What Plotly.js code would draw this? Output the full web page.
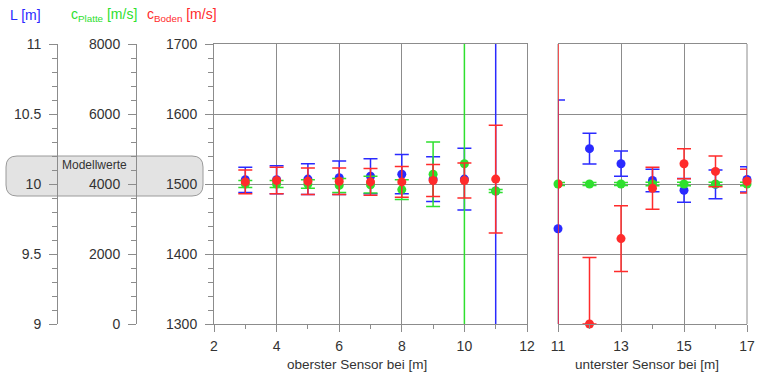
<!DOCTYPE html>
<html>
<head>
<meta charset="utf-8">
<script src="https://cdn.plot.ly/plotly-3.0.1.min.js"></script>
<style>html,body{margin:0;padding:0;background:#fff}#chart{width:759px;height:375px}</style>
</head>
<body>
<div id="chart"></div>
<script>
// ---------- data ----------
// upper panel: oberster Sensor bei [m]
const xTop = [3, 4, 5, 6, 7, 8, 9, 10, 11];
const L_top = [10.03, 10.03, 10.035, 10.045, 10.055, 10.07, 10.035, 10.035, 9.95];
const L_top_err = [0.09, 0.10, 0.11, 0.12, 0.125, 0.14, 0.16, 0.22, 5];
const cPlatte_top = [4000, 4000, 4000, 3960, 3980, 3840, 4280, 4580, 3800];
const cPlatte_top_err = [100, 100, 120, 200, 240, 280, 920, 20000, 40];
const cBoden_top = [1503, 1505, 1504, 1504, 1503, 1503, 1505, 1505, 1507];
const cBoden_top_err = [17, 19, 19, 19, 19, 22, 23, 25, 77];

// lower panel: unterster Sensor bei [m]
const xBot = [11, 12, 13, 14, 15, 16, 17];
const L_bot = [9.68, 10.2525, 10.145, 10.025, 9.955, 9.9975, 10.0325];
const L_bot_err = [0.92, 0.11, 0.09, 0.08, 0.085, 0.1025, 0.09];
const cPlatte_bot = [4000, 4000, 4000, 4000, 4000, 4000, 4000];
const cPlatte_bot_err = [40, 40, 40, 50, 50, 50, 50];
const cBoden_bot = [1500, 1300, 1422, 1494, 1529, 1518, 1504];
const cBoden_bot_errPlus = [500, 95, 47, 30, 21.5, 22, 17];
const cBoden_bot_errMinus = [500, 0, 47, 30, 21.5, 22, 17];

// axis ranges
const xTopRange = [2, 12];
const xBotRange = [11, 17];
const L_range = [9, 11];
const cPlatte_range = [0, 8000];
const cBoden_range = [1300, 1700];

// ---------- styling ----------
const W = 759, H = 375;
const px = v => v / W;
const py = v => 1 - v / H;
const BLUE = '#2a2aff', GREEN = '#2ee02e', RED = '#ff2b2b', GRAY = '#8c8c8c', TXT = '#333333';
const FONT = 'Liberation Sans, Arial, sans-serif';

function errs(color, arr, minus) {
  const e = {type: 'data', array: arr, color: color, thickness: 1.5, width: 7, visible: true};
  if (minus) { e.symmetric = false; e.arrayminus = minus; }
  return e;
}
function tr(x, y, xa, ya, color, err, clip) {
  return {
    type: 'scatter', mode: 'markers', x: x, y: y, xaxis: xa, yaxis: ya,
    marker: {color: color, size: 9},
    error_y: err, cliponaxis: clip, hoverinfo: 'skip', showlegend: false
  };
}

const data = [
  tr(xTop, L_top, 'x', 'y', BLUE, errs(BLUE, L_top_err), true),
  tr(xBot, L_bot, 'x2', 'y', BLUE, errs(BLUE, L_bot_err), false),
  tr(xTop, cPlatte_top, 'x', 'y2', GREEN, errs(GREEN, cPlatte_top_err), true),
  tr(xBot, cPlatte_bot, 'x2', 'y2', GREEN, errs(GREEN, cPlatte_bot_err), false),
  tr(xTop, cBoden_top, 'x', 'y3', RED, errs(RED, cBoden_top_err), true),
  tr(xBot.slice(1), cBoden_bot.slice(1), 'x2', 'y3', RED,
     errs(RED, cBoden_bot_errPlus.slice(1), cBoden_bot_errMinus.slice(1)), false),
  tr(xBot.slice(0, 1), cBoden_bot.slice(0, 1), 'x2', 'y4', RED,
     errs(RED, cBoden_bot_errPlus.slice(0, 1), cBoden_bot_errMinus.slice(0, 1)), true)
];

const yDom = [py(324), py(44)];
const tickfont = {family: FONT, size: 14, color: TXT};
function yAx(extra) {
  return Object.assign({
    domain: yDom, ticks: 'outside', ticklen: 8, tickwidth: 1, tickcolor: GRAY,
    showline: true, linecolor: GRAY, linewidth: 1, showgrid: false, zeroline: false,
    tickfont: tickfont, ticklabelstandoff: 5, fixedrange: true
  }, extra);
}

function roundRect(x0, y0, x1, y1, r) {
  const P = (x, y) => px(x).toFixed(5) + ',' + py(y).toFixed(5);
  return 'M' + P(x0 + r, y0) + ' L' + P(x1 - r, y0) + ' Q' + P(x1, y0) + ' ' + P(x1, y0 + r) +
    ' L' + P(x1, y1 - r) + ' Q' + P(x1, y1) + ' ' + P(x1 - r, y1) +
    ' L' + P(x0 + r, y1) + ' Q' + P(x0, y1) + ' ' + P(x0, y1 - r) +
    ' L' + P(x0, y0 + r) + ' Q' + P(x0, y0) + ' ' + P(x0 + r, y0) + ' Z';
}

const xCommon = {
  ticks: 'outside', ticklen: 7, tickcolor: GRAY,
  minor: {dtick: 1, ticks: 'outside', ticklen: 4, tickcolor: GRAY, showgrid: false},
  showgrid: true, gridcolor: GRAY, gridwidth: 1, zeroline: false,
  showline: true, linecolor: GRAY, mirror: true,
  tickfont: tickfont, ticklabelstandoff: 2, fixedrange: true
};

const layout = {
  width: W, height: H,
  margin: {l: 0, r: 0, t: 0, b: 0, pad: 0},
  paper_bgcolor: '#ffffff', plot_bgcolor: 'rgba(0,0,0,0)',
  showlegend: false,
  font: {family: FONT, color: TXT},
  xaxis: Object.assign({domain: [px(214), px(527)], range: xTopRange, anchor: 'y', tick0: 2, dtick: 2}, xCommon),
  xaxis2: Object.assign({domain: [px(558), px(747)], range: xBotRange, anchor: 'y', tick0: 11, dtick: 2}, xCommon),
  yaxis: yAx({range: L_range, anchor: 'free', position: px(57), tick0: 9, dtick: 0.5,
    minor: {dtick: 0.1, ticks: 'outside', ticklen: 5, tickcolor: GRAY, showgrid: false}}),
  yaxis2: yAx({range: cPlatte_range, overlaying: 'y', anchor: 'free', position: px(136), tick0: 0, dtick: 2000,
    minor: {dtick: 400, ticks: 'outside', ticklen: 5, tickcolor: GRAY, showgrid: false}}),
  yaxis3: yAx({range: cBoden_range, overlaying: 'y', anchor: 'x', side: 'left', tick0: 1300, dtick: 100,
    showgrid: true, gridcolor: GRAY, gridwidth: 1, mirror: true,
    minor: {dtick: 20, ticks: 'outside', ticklen: 5, tickcolor: GRAY, showgrid: false}}),
  yaxis4: {range: cBoden_range, overlaying: 'y', anchor: 'x2', visible: false, fixedrange: true},
  shapes: [
    {type: 'path', xref: 'paper', yref: 'paper', layer: 'below',
     path: roundRect(6, 156, 203, 196, 11),
     fillcolor: '#e3e3e3', line: {color: '#9a9a9a', width: 1}},
    {type: 'line', xref: 'paper', yref: 'paper', layer: 'below',
     x0: px(558), x1: px(558), y0: yDom[0], y1: yDom[1], line: {color: GRAY, width: 1}},
    {type: 'line', xref: 'paper', yref: 'paper', layer: 'below',
     x0: px(747), x1: px(747), y0: yDom[0], y1: yDom[1], line: {color: GRAY, width: 1}}
  ],
  annotations: [
    {xref: 'paper', yref: 'paper', x: px(8), y: py(15), xanchor: 'left', yanchor: 'middle', showarrow: false,
     text: 'L [m]', font: {family: FONT, size: 14, color: BLUE}},
    {xref: 'paper', yref: 'paper', x: px(69), y: py(15), xanchor: 'left', yanchor: 'middle', showarrow: false,
     text: 'c<sub>Platte</sub> [m/s]', font: {family: FONT, size: 14, color: GREEN}},
    {xref: 'paper', yref: 'paper', x: px(145), y: py(15), xanchor: 'left', yanchor: 'middle', showarrow: false,
     text: 'c<sub>Boden</sub> [m/s]', font: {family: FONT, size: 14, color: RED}},
    {xref: 'paper', yref: 'paper', x: px(60), y: py(165), xanchor: 'left', yanchor: 'middle', showarrow: false,
     text: 'Modellwerte', font: {family: FONT, size: 12, color: TXT}},
    {xref: 'paper', yref: 'paper', x: px(357), y: py(364), xanchor: 'center', yanchor: 'middle', showarrow: false,
     text: 'oberster Sensor bei [m]', font: {family: FONT, size: 13.5, color: TXT}},
    {xref: 'paper', yref: 'paper', x: px(647), y: py(364), xanchor: 'center', yanchor: 'middle', showarrow: false,
     text: 'unterster Sensor bei [m]', font: {family: FONT, size: 13.5, color: TXT}}
  ]
};

Plotly.newPlot('chart', data, layout, {staticPlot: true, displayModeBar: false});
</script>
</body>
</html>
